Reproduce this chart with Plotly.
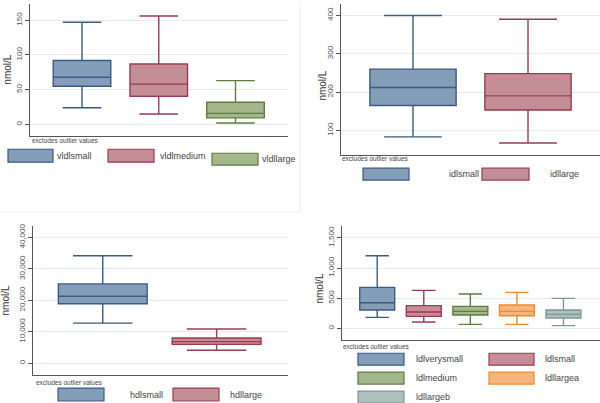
import plotly.graph_objects as go

W, H = 600, 403

# ---------------- data ----------------
vldl_names = ["vldlsmall", "vldlmedium", "vldllarge"]
vldl_lower = [24, 15, 2]
vldl_q1 = [55, 40.5, 9.5]
vldl_median = [68, 58, 16]
vldl_q3 = [92, 87, 32]
vldl_upper = [147, 156, 63]

idl_names = ["idlsmall", "idllarge"]
idl_lower = [83, 67]
idl_q1 = [165, 153]
idl_median = [212, 190]
idl_q3 = [260, 248]
idl_upper = [400, 390]

hdl_names = ["hdlsmall", "hdllarge"]
hdl_lower = [12760, 4120]
hdl_q1 = [18900, 6000]
hdl_median = [21300, 6870]
hdl_q3 = [25240, 8000]
hdl_upper = [34200, 10860]

ldl_names = ["ldlverysmall", "ldlsmall", "ldlmedium", "ldllargea", "ldllargeb"]
ldl_lower = [182, 106, 66, 66, 45]
ldl_q1 = [305, 199, 222, 210, 172]
ldl_median = [425, 271, 281, 281, 232]
ldl_q3 = [679, 376, 364, 387, 305]
ldl_upper = [1204, 629, 569, 596, 497]

vldl_ticks = [0, 50, 100, 150]
idl_ticks = [100, 200, 300, 400]
hdl_ticks = [0, 10000, 20000, 30000, 40000]
ldl_ticks = [0, 500, 1000, 1500]

note_text = "excludes outlier values"
ytitle = "nmol/L"

# ---------------- style ----------------
FILLS = ["#849db8", "#c48e97", "#a3b78a", "#f5b57c", "#adc0bc"]
LINES = ["#3b5b82", "#9a3c4f", "#5e7d3f", "#ef8a2f", "#7d9894"]
FONT = "Liberation Sans"
GRID = "#e4ebee"
AXC = "#555555"


def px(x):
    return x / W


def py(y):
    return 1 - y / H


fig = go.Figure()

panels = [
    (vldl_names, vldl_lower, vldl_q1, vldl_median, vldl_q3, vldl_upper, vldl_ticks,
     (30, 288.3), (1.7, 135), (0.3225, 3.688), (-17.1, 173.8), 0.75),
    (idl_names, idl_lower, idl_q1, idl_median, idl_q3, idl_upper, idl_ticks,
     (341, 600), (2, 153.3), (0.374, 2.626), (36.8, 430), 0.75),
    (hdl_names, hdl_lower, hdl_q1, hdl_median, hdl_q3, hdl_upper, hdl_ticks,
     (33.3, 288), (225, 375), (0.39, 2.627), (-3800, 43700), 0.78),
    (ldl_names, ldl_lower, ldl_q1, ldl_median, ldl_q3, ldl_upper, ldl_ticks,
     (341.7, 600), (225, 340), (0.237, 5.785), (-198, 1698), 0.75),
]

layout_axes = {}
for i, (names, lo, q1, md, q3, up, ticks, xd, yd, xr, yr, bw) in enumerate(panels):
    k = "" if i == 0 else str(i + 1)
    for j, n in enumerate(names):
        fig.add_trace(go.Box(
            x=[j + 1], q1=[q1[j]], median=[md[j]], q3=[q3[j]],
            lowerfence=[lo[j]], upperfence=[up[j]],
            name=n, width=bw, whiskerwidth=0.67,
            fillcolor=FILLS[j], line=dict(color=LINES[j], width=1.4),
            boxpoints=False, showlegend=False, hoverinfo="skip",
            xaxis="x" + k, yaxis="y" + k,
        ))
    layout_axes["xaxis" + k] = dict(
        domain=[px(xd[0]), px(xd[1])], range=list(xr), anchor="y" + k,
        showgrid=False, zeroline=False, showticklabels=False, ticks="",
        showline=True, linecolor=AXC, linewidth=1, fixedrange=True,
    )
    layout_axes["yaxis" + k] = dict(
        domain=[py(yd[1]), py(yd[0])], range=list(yr), anchor="x" + k,
        tickvals=ticks, ticktext=[f"{t:,}" for t in ticks],
        tickangle=-90, tickfont=dict(family=FONT, size=8, color="#555"),
        ticks="outside", ticklen=4, tickcolor=AXC,
        showgrid=True, gridcolor=GRID, gridwidth=1, zeroline=False,
        showline=True, linecolor=AXC, linewidth=1, fixedrange=True,
    )

fig.update_layout(
    width=W, height=H, margin=dict(l=0, r=0, t=0, b=0),
    paper_bgcolor="white", plot_bgcolor="white", showlegend=False,
    **layout_axes,
)

shapes = []
annotations = []

# axis titles
for (x, y) in [(8, 68), (323, 84), (6, 300), (320, 288)]:
    annotations.append(dict(x=px(x), y=py(y), xref="paper", yref="paper",
                            text=ytitle, textangle=-90, showarrow=False,
                            font=dict(family=FONT, size=10, color="#333"),
                            xanchor="center", yanchor="middle"))

# notes
for (x, y) in [(30, 139.5), (340, 157.5), (34, 382.5), (341, 346)]:
    annotations.append(dict(x=px(x), y=py(y), xref="paper", yref="paper",
                            text=note_text, showarrow=False,
                            font=dict(family=FONT, size=6.5, color="#444"),
                            xanchor="left", yanchor="middle"))

# legend keys: (name, color index, key x0, x1, y0, y1, text x)
legend_items = [
    (vldl_names[0], 0, 8, 53, 148, 161, 55),
    (vldl_names[1], 1, 108, 154, 148, 161, 158),
    (vldl_names[2], 2, 212, 258, 152, 164, 260),
    (idl_names[0], 0, 363, 409, 167, 179, 447),
    (idl_names[1], 1, 482, 529, 167, 179, 548),
    (hdl_names[0], 0, 58, 104, 388, 401, 128),
    (hdl_names[1], 1, 173, 219, 388, 401, 228),
    (ldl_names[0], 0, 358, 404, 353, 365, 414),
    (ldl_names[1], 1, 489, 534, 353, 365, 543),
    (ldl_names[2], 2, 358, 404, 372, 384, 414),
    (ldl_names[3], 3, 489, 534, 372, 384, 543),
    (ldl_names[4], 4, 358, 404, 391, 403, 414),
]
for name, ci, x0, x1, y0, y1, tx in legend_items:
    shapes.append(dict(type="rect", xref="paper", yref="paper",
                       x0=px(x0), x1=px(x1), y0=py(y1), y1=py(y0),
                       fillcolor=FILLS[ci], line=dict(color=LINES[ci], width=1.2)))
    annotations.append(dict(x=px(tx), y=py((y0 + y1) / 2), xref="paper", yref="paper",
                            text=name, showarrow=False,
                            font=dict(family=FONT, size=9, color="#444"),
                            xanchor="left", yanchor="middle"))

# faint panel frame lines
shapes.append(dict(type="line", xref="paper", yref="paper", x0=px(300), x1=px(300),
                   y0=py(211), y1=py(0), line=dict(color="#efefef", width=1)))
shapes.append(dict(type="line", xref="paper", yref="paper", x0=0, x1=px(300),
                   y0=py(211), y1=py(211), line=dict(color="#efefef", width=1)))

fig.update_layout(shapes=shapes, annotations=annotations)

fig.write_html("out.html", config={"displayModeBar": False},
               post_script="document.body.style.margin='0';document.body.style.overflow='hidden';")
